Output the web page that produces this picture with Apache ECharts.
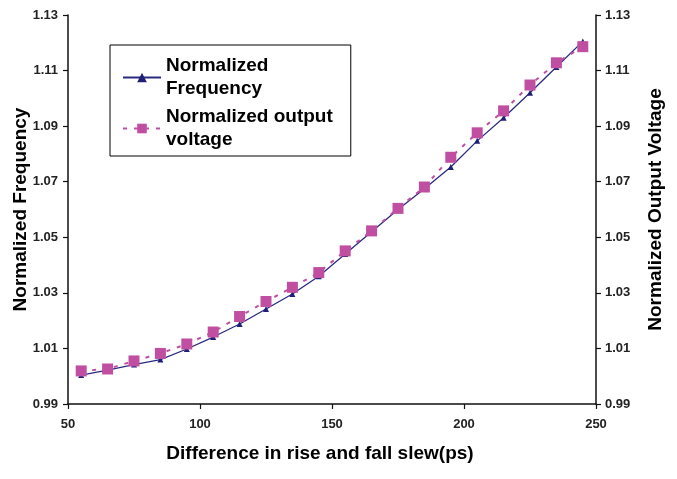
<!DOCTYPE html>
<html>
<head>
<meta charset="utf-8">
<script src="https://cdn.jsdelivr.net/npm/echarts@6/dist/echarts.min.js"></script>
<style>
html,body{margin:0;padding:0;background:#fff;}
#chart{width:677px;height:479px;}
</style>
</head>
<body>
<div id="chart"></div>
<script>
var slew = [55, 65, 75, 85, 95, 105, 115, 125, 135, 145, 155, 165, 175, 185, 195, 205, 215, 225, 235, 245];
var normFrequency = [1.0004, 1.0022, 1.0042, 1.0060, 1.0098, 1.0141, 1.0188, 1.0242, 1.0296, 1.0360, 1.0440, 1.0520, 1.0600, 1.0675, 1.0753, 1.0847, 1.0930, 1.1020, 1.1113, 1.1205];
var normVoltage = [1.0019, 1.0026, 1.0055, 1.0082, 1.0116, 1.0159, 1.0215, 1.0269, 1.0320, 1.0373, 1.0451, 1.0523, 1.0604, 1.0681, 1.0788, 1.0876, 1.0955, 1.1048, 1.1128, 1.1186];
var yTicks = [0.99, 1.01, 1.03, 1.05, 1.07, 1.09, 1.11, 1.13];
var xTicks = [50, 100, 150, 200, 250];
var seriesNames = ['Normalized\nFrequency', 'Normalized output\nvoltage'];

var font = 'Arial, "Liberation Sans", sans-serif';
var chart = echarts.init(document.getElementById('chart'), null, {renderer: 'canvas'});

function yAxisDef(name, pos, gap, margin) {
  return {
    type: 'value', position: pos, min: 0.99, max: 1.13,
    name: name, nameLocation: 'middle', nameGap: gap, nameMoveOverlap: false,
    nameTextStyle: {fontFamily: font, fontWeight: 'bold', fontSize: 19, color: '#000'},
    axisLine: {show: true, lineStyle: {color: '#111', width: 1.5}},
    axisTick: {show: true, length: 5, lineStyle: {color: '#111', width: 1.2}, customValues: yTicks},
    axisLabel: {fontFamily: font, fontWeight: 'bold', fontSize: 13, color: '#222', margin: margin,
      customValues: yTicks, formatter: function (v) { return v.toFixed(2); }},
    splitLine: {show: false}
  };
}

chart.setOption({
  animation: false,
  backgroundColor: '#fff',
  grid: {left: 68, right: 81, top: 15, bottom: 75, containLabel: false, outerBoundsMode: 'none'},
  legend: {
    orient: 'vertical', left: 110, top: 45,
    padding: [-2, 18, -7, 12],
    itemGap: -18,
    itemWidth: 38, itemHeight: 12,
    borderColor: '#000', borderWidth: 1,
    data: seriesNames,
    textStyle: {fontFamily: font, fontWeight: 'bold', fontSize: 19, lineHeight: 23, color: '#000', padding: [23, 0, 0, 0]}
  },
  xAxis: {
    type: 'value', min: 50, max: 250, interval: 50,
    name: 'Difference in rise and fall slew(ps)', nameLocation: 'middle', nameGap: 40, nameMoveOverlap: false,
    nameTextStyle: {fontFamily: font, fontWeight: 'bold', fontSize: 19, color: '#000', padding: [0, 24, 0, 0]},
    axisLine: {show: true, lineStyle: {color: '#111', width: 1.5}},
    axisTick: {show: true, length: 5, lineStyle: {color: '#111', width: 1.2}},
    axisLabel: {fontFamily: font, fontWeight: 'bold', fontSize: 13, color: '#222', margin: 14,
      customValues: xTicks},
    splitLine: {show: false}
  },
  yAxis: [
    yAxisDef('Normalized Frequency', 'left', 38, 10),
    yAxisDef('Normalized Output Voltage', 'right', 50, 9)
  ],
  series: [
    {
      name: seriesNames[0], type: 'line', yAxisIndex: 0,
      data: slew.map(function (x, i) { return [x, normFrequency[i]]; }),
      symbol: 'triangle', symbolSize: 6, smooth: false,
      itemStyle: {color: '#1f1f78'},
      lineStyle: {color: '#2a2a80', width: 1.3},
      z: 2
    },
    {
      name: seriesNames[1], type: 'line', yAxisIndex: 1,
      data: slew.map(function (x, i) { return [x, normVoltage[i]]; }),
      symbol: 'rect', symbolSize: 11,
      itemStyle: {color: '#c04fa2'},
      lineStyle: {color: '#c04fa2', width: 2, type: [4, 7]},
      z: 3
    }
  ]
});
</script>
</body>
</html>
